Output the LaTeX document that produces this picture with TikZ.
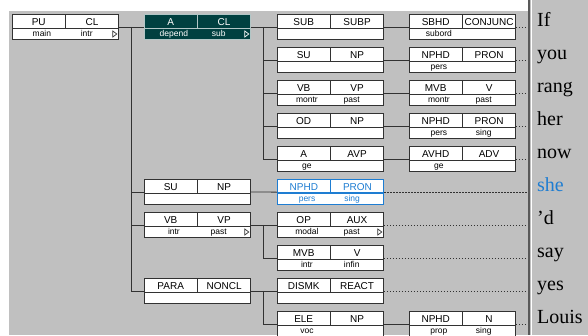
\documentclass[tikz,border=0pt]{standalone}
\usepackage{fontspec}
\setmainfont{Liberation Serif}
\setsansfont{Liberation Sans}
\usetikzlibrary{calc, math}
\definecolor{mygray}{RGB}{192,192,192}
\definecolor{myteal}{RGB}{0,64,64}
\definecolor{myblue}{RGB}{30,125,210}
\definecolor{myline}{RGB}{50,50,50}

\tikzset{
 boxfill/.style={fill=white},
 gbox/.style={draw, boxfill, anchor=north west, minimum width=106pt, minimum height=25pt, inner sep=0pt},
 plainbox/.style={color=myline, text=black, line width=0.8pt, boxfill/.style={fill=white}},
 darkbox/.style={color=white!70!myteal, text=white, line width=0.8pt, boxfill/.style={fill=myteal}},
 bluebox/.style={color=myblue, text=myblue, line width=1.3pt, boxfill/.style={fill=white}},
 fnlabel/.style={anchor=base, inner sep=0pt, font=\sffamily\fontsize{10}{12}\selectfont},
 ftlabel/.style={anchor=base, inner sep=0pt, font=\sffamily\fontsize{8.5}{10}\selectfont},
 conn/.style={draw=myline, line width=0.8pt},
 dots/.style={draw=myline, line width=0.8pt, dash pattern=on 1.5pt off 1.5pt},
 word/.style={anchor=base west, inner sep=0pt, font=\fontsize{20}{22}\selectfont},
}

% box with function/category on top and features below
\newcommand{\treebox}[8][plainbox]{%
 \begin{scope}[#1]
 \node[gbox] (#2) at (#3,{\ytop+#4*\dy}) {};
 \draw ($(#2.north west)+(0,14)$) -- ($(#2.north east)+(0,14)$);
 \draw (#2.north) -- ($(#2.north)+(0,14)$);
 \node[fnlabel] (#2-f) at ($(#2.north west)!0.25!(#2.north east)+(0,11)$) {#5};
 \node[fnlabel] (#2-c) at ($(#2.north west)!0.75!(#2.north east)+(0,11)$) {#6};
 \node[ftlabel] (#2-a) at ($(#2.north west)!0.28!(#2.north east)+(0,22)$) {#7};
 \node[ftlabel] (#2-b) at ($(#2.north west)!0.70!(#2.north east)+(0,22)$) {#8};
 \end{scope}
}
\newcommand{\subtri}[2][myline]{%
 \draw[#1, line width=0.7pt] ($(#2.north east)+(-6,17)$) -- ++(4,3) -- ++(-4,3) -- cycle;
}

\begin{document}
\begin{tikzpicture}[x=1pt, y=-1pt]
\tikzmath{
\ytop=14;
\dy=33;
\xa=12;
\xb=144;
\xc=277;
\xd=409;
\wx=537;
}
\useasboundingbox (0,0) rectangle (588,335);

% panes
\fill[mygray] (0,0) rectangle (588,335);
\fill[white] (0,0) rectangle (528,11);
\fill[white] (0,0) rectangle (9,335);
\fill[mygray] (532,0) rectangle (588,335);
\fill[gray!70!black] (528,0) rectangle (529.5,335);
\fill[white] (530.5,0) rectangle (532,335);

\coordinate (ta) at (131,0);
\coordinate (tb) at (263,0);
\coordinate (sep) at (527,0);

% boxes
\treebox{pu}{\xa}{0}{PU}{CL}{main}{intr}
\subtri{pu}

\treebox[darkbox]{a}{\xb}{0}{A}{CL}{depend}{sub}
\subtri[white]{a}
\treebox{su}{\xb}{5}{SU}{NP}{}{}
\treebox{vb}{\xb}{6}{VB}{VP}{intr}{past}
\subtri{vb}
\treebox{para}{\xb}{8}{PARA}{NONCL}{}{}

\treebox{sub}{\xc}{0}{SUB}{SUBP}{}{}
\treebox{suc}{\xc}{1}{SU}{NP}{}{}
\treebox{vbc}{\xc}{2}{VB}{VP}{montr}{past}
\treebox{od}{\xc}{3}{OD}{NP}{}{}
\treebox{av}{\xc}{4}{A}{AVP}{ge}{}
\treebox[bluebox]{nphd}{\xc}{5}{NPHD}{PRON}{pers}{sing}
\treebox{op}{\xc}{6}{OP}{AUX}{modal}{past}
\subtri{op}
\treebox{mvb}{\xc}{7}{MVB}{V}{intr}{infin}
\treebox{dismk}{\xc}{8}{DISMK}{REACT}{}{}
\treebox{ele}{\xc}{9}{ELE}{NP}{voc}{}

\treebox{sbhd}{\xd}{0}{SBHD}{CONJUNC}{subord}{}
\treebox{nphda}{\xd}{1}{NPHD}{PRON}{pers}{}
\treebox{mvba}{\xd}{2}{MVB}{V}{montr}{past}
\treebox{nphdb}{\xd}{3}{NPHD}{PRON}{pers}{sing}
\treebox{avhd}{\xd}{4}{AVHD}{ADV}{ge}{}
\treebox{nphdc}{\xd}{9}{NPHD}{N}{prop}{sing}

% branches
\draw[conn] (pu.east) -- (a.west);
\draw[conn] (ta |- pu.east) |- (para.west);
\draw[conn] (ta |- su.west) -- (su.west);
\draw[conn] (ta |- vb.west) -- (vb.west);

\draw[conn] (a.east) -- (sub.west);
\draw[conn] (tb |- a.east) |- (av.west);
\draw[conn] (tb |- suc.west) -- (suc.west);
\draw[conn] (tb |- vbc.west) -- (vbc.west);
\draw[conn] (tb |- od.west) -- (od.west);
\draw[conn] (su.east) -- (nphd.west);
\draw[conn] (vb.east) -- (op.west);
\draw[conn] (tb |- vb.east) |- (mvb.west);
\draw[conn] (para.east) -- (dismk.west);
\draw[conn] (tb |- para.east) |- (ele.west);

\draw[conn] (sub.east) -- (sbhd.west);
\draw[conn] (suc.east) -- (nphda.west);
\draw[conn] (vbc.east) -- (mvba.west);
\draw[conn] (od.east) -- (nphdb.west);
\draw[conn] (av.east) -- (avhd.west);
\draw[conn] (ele.east) -- (nphdc.west);

% leaders to the words
\draw[dots] (sbhd.east) -- (sbhd.east -| sep);
\draw[dots] (nphda.east) -- (nphda.east -| sep);
\draw[dots] (mvba.east) -- (mvba.east -| sep);
\draw[dots] (nphdb.east) -- (nphdb.east -| sep);
\draw[dots] (avhd.east) -- (avhd.east -| sep);
\draw[dots] (nphd.east) -- (nphd.east -| sep);
\draw[dots] (op.east) -- (op.east -| sep);
\draw[dots] (mvb.east) -- (mvb.east -| sep);
\draw[dots] (dismk.east) -- (dismk.east -| sep);
\draw[dots] (nphdc.east) -- (nphdc.east -| sep);

% words
\foreach \i/\w/\c in {0/If/black, 1/you/black, 2/rang/black, 3/her/black, 4/now/black,
 5/she/myblue, 6/'d/black, 7/say/black, 8/yes/black, 9/Louis/black}
 \node[word, text=\c] (w\i) at (\wx, {\ytop+\i*\dy+12}) {\w};

\end{tikzpicture}
\end{document}
